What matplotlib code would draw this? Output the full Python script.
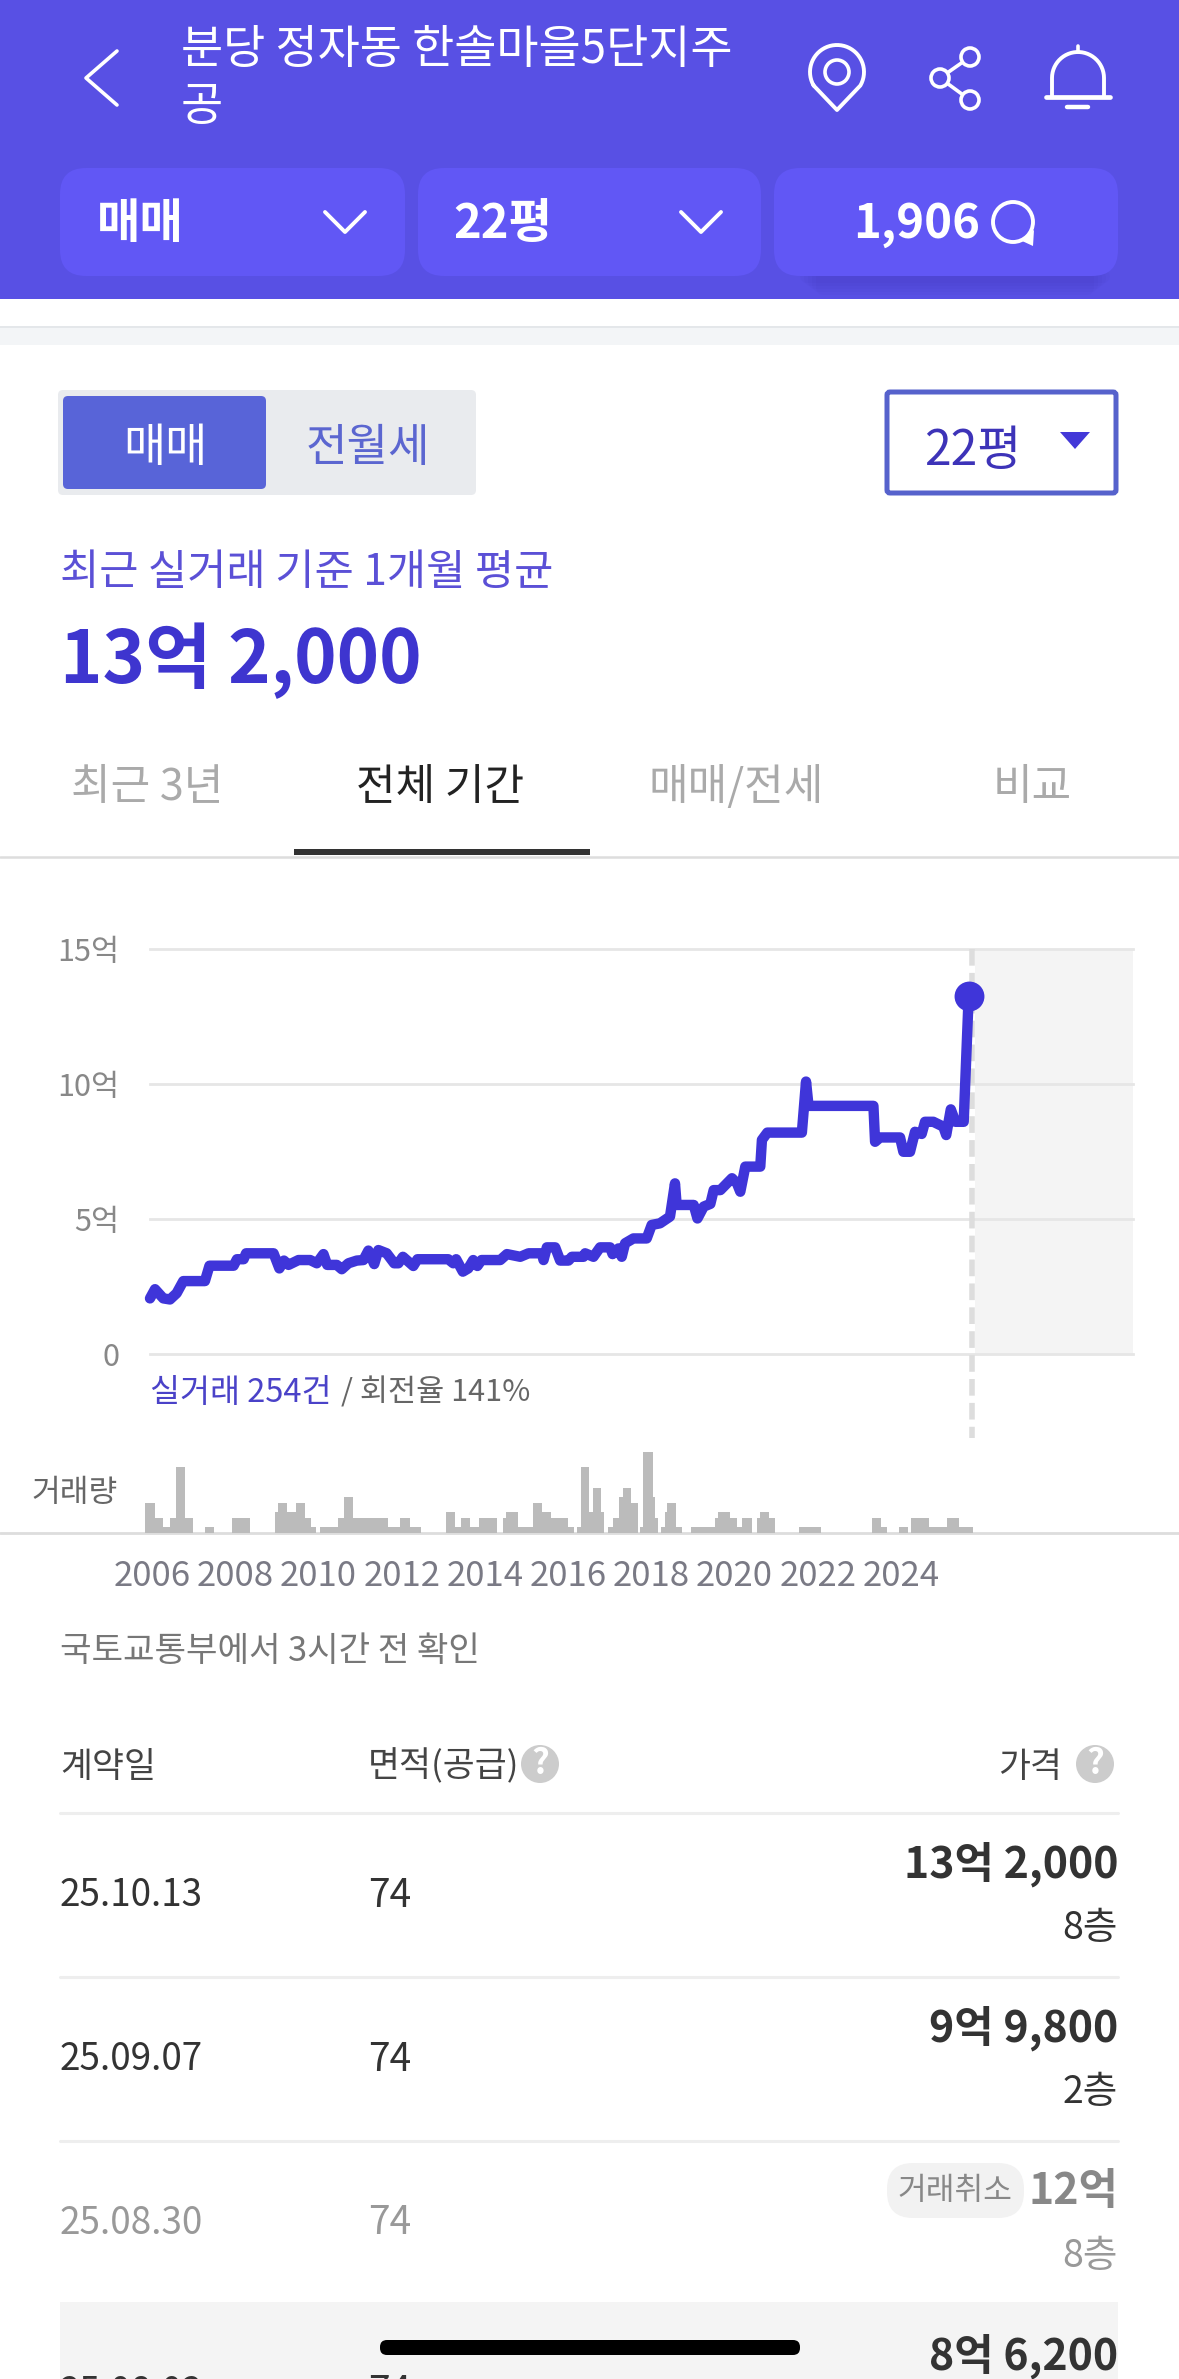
import numpy as np
import matplotlib
matplotlib.use("Agg")
import matplotlib.pyplot as plt
from matplotlib.patches import FancyBboxPatch, Rectangle, Circle, Polygon

plt.rcParams['font.family'] = ['Noto Sans CJK KR', 'DejaVu Sans']

# --- chart data ---
price_years = [
    2005.95, 2006.07, 2006.27, 2006.43, 2006.59, 2006.75, 2007.27, 2007.38, 2007.96, 2008.04,
    2008.20, 2008.26, 2008.92, 2009.06, 2009.17, 2009.28, 2009.52, 2009.80, 2009.96, 2010.12,
    2010.21, 2010.44, 2010.56, 2010.72, 2010.92, 2011.08, 2011.20, 2011.34, 2011.44, 2011.64,
    2011.82, 2011.92, 2012.03, 2012.28, 2012.38, 2013.12, 2013.24, 2013.31, 2013.47, 2013.60,
    2013.72, 2013.82, 2013.92, 2014.37, 2014.53, 2014.85, 2015.05, 2015.37, 2015.41, 2015.49,
    2015.69, 2015.81, 2016.01, 2016.09, 2016.37, 2016.41, 2016.61, 2016.77, 2017.01, 2017.07,
    2017.21, 2017.29, 2017.37, 2017.57, 2017.89, 2018.01, 2018.21, 2018.45, 2018.57, 2018.61,
    2019.02, 2019.11, 2019.26, 2019.42, 2019.50, 2019.66, 2019.94, 2020.06, 2020.14, 2020.26,
    2020.62, 2020.66, 2020.79, 2021.62, 2021.72, 2021.78, 2023.34, 2023.38, 2023.50, 2023.98,
    2024.06, 2024.22, 2024.34, 2024.50, 2024.58, 2024.78, 2025.02, 2025.09, 2025.20, 2025.31,
    2025.51, 2025.63,
]
price_values = [
    2.06, 2.40, 2.06, 2.02, 2.25, 2.70, 2.70, 3.27, 3.27, 3.51,
    3.51, 3.73, 3.73, 3.17, 3.46, 3.30, 3.48, 3.48, 3.36, 3.70,
    3.30, 3.30, 3.14, 3.36, 3.46, 3.48, 3.83, 3.33, 3.85, 3.73,
    3.36, 3.36, 3.60, 3.26, 3.51, 3.51, 3.36, 3.51, 3.05, 3.17,
    3.48, 3.26, 3.48, 3.48, 3.70, 3.60, 3.73, 3.73, 3.48, 3.95,
    3.95, 3.46, 3.46, 3.60, 3.60, 3.73, 3.60, 3.95, 3.95, 3.70,
    3.91, 3.60, 4.10, 4.28, 4.28, 4.78, 4.84, 5.09, 6.32, 5.52,
    5.52, 5.02, 5.46, 5.56, 6.07, 6.07, 6.51, 6.32, 6.01, 6.94,
    6.94, 7.93, 8.20, 8.20, 10.09, 9.19, 9.19, 7.86, 8.02, 8.02,
    7.49, 7.49, 8.23, 8.15, 8.60, 8.60, 8.42, 8.11, 9.06, 8.60,
    8.60, 13.27,
]

vol_left = [
    2005.84, 2006.06, 2006.27, 2006.42, 2006.57, 2006.78, 2007.28, 2007.93, 2008.95, 2009.02,
    2009.24, 2009.45, 2009.67, 2009.81, 2010.03, 2010.46, 2010.61, 2010.82, 2011.68, 2011.97,
    2012.19, 2013.06, 2013.28, 2013.42, 2013.64, 2013.85, 2014.43, 2014.50, 2014.79, 2015.15,
    2015.37, 2015.58, 2016.01, 2016.22, 2016.30, 2016.51, 2016.59, 2016.80, 2016.95, 2017.09,
    2017.23, 2017.31, 2017.52, 2017.74, 2017.81, 2018.03, 2018.10, 2018.24, 2018.32, 2018.39,
    2018.60, 2018.96, 2019.54, 2019.61, 2019.90, 2020.05, 2020.19, 2020.55, 2020.62, 2020.84,
    2021.56, 2023.30, 2023.52, 2023.95, 2024.24, 2024.67, 2025.10, 2025.39,
]
vol_right = [
    2006.06, 2006.27, 2006.42, 2006.57, 2006.78, 2006.99, 2007.50, 2008.36, 2009.02, 2009.24,
    2009.45, 2009.67, 2009.81, 2009.95, 2010.46, 2010.61, 2010.82, 2011.68, 2011.97, 2012.19,
    2012.47, 2013.28, 2013.42, 2013.64, 2013.85, 2014.29, 2014.50, 2014.79, 2015.15, 2015.37,
    2015.58, 2016.01, 2016.15, 2016.30, 2016.51, 2016.59, 2016.80, 2016.87, 2017.09, 2017.23,
    2017.31, 2017.52, 2017.67, 2017.81, 2018.03, 2018.10, 2018.17, 2018.32, 2018.39, 2018.60,
    2018.75, 2019.54, 2019.61, 2019.90, 2020.05, 2020.19, 2020.41, 2020.62, 2020.84, 2020.98,
    2022.07, 2023.52, 2023.66, 2024.17, 2024.67, 2025.10, 2025.39, 2025.74,
]
vol_counts = [
    10, 5, 2, 5, 22, 5, 2, 5, 7, 10,
    7, 10, 5, 2, 2, 5, 12, 5, 2, 5,
    2, 7, 2, 5, 2, 5, 5, 7, 2, 10,
    7, 5, 2, 2, 22, 7, 15, 7, 2, 5,
    12, 15, 10, 2, 27, 12, 5, 2, 7, 10,
    2, 2, 5, 7, 5, 2, 5, 5, 7, 5,
    2, 5, 2, 2, 5, 2, 5, 2,
]

y_ticks = [0, 5, 10, 15]
y_labels = ['0', '5억', '10억', '15억']
x_ticks = [2006, 2008, 2010, 2012, 2014, 2016, 2018, 2020, 2022, 2024]

table_dates = ['25.10.13', '25.09.07', '25.08.30', '25.08.02']
table_areas = ['74', '74', '74', '74']
table_prices = ['13억 2,000', '9억 9,800', '12억', '8억 6,200']
table_floors = ['8층', '2층', '8층']

W, H = 1179, 2379
HEADER = '#5850E4'
BUTTON = '#6157F5'
LINE = '#3F35D9'

fig = plt.figure(figsize=(W / 100, H / 100), dpi=100, facecolor='white')


def px_axes(x0, y0, x1, y1):
    return fig.add_axes([x0 / W, 1 - y1 / H, (x1 - x0) / W, (y1 - y0) / H])


# --- screen chrome, drawn in pixel coordinates ---
ui = fig.add_axes([0, 0, 1, 1])
ui.set_xlim(0, W)
ui.set_ylim(H, 0)
ui.axis('off')


def box(x0, y0, x1, y1, color, radius=0, edge='none', lw=0, alpha=1, z=1):
    if radius:
        p = FancyBboxPatch((x0, y0), x1 - x0, y1 - y0, boxstyle=f'round,pad=0,rounding_size={radius}',
                           facecolor=color, edgecolor=edge, linewidth=lw, alpha=alpha, zorder=z)
    else:
        p = Rectangle((x0, y0), x1 - x0, y1 - y0, facecolor=color, edgecolor=edge, linewidth=lw,
                      alpha=alpha, zorder=z)
    ui.add_patch(p)


def label(x, y, s, size, color, ha='left', weight='normal', z=5):
    # noto's box sits a little high, nudge down to match the screenshot
    ui.text(x, y + 3, s, fontsize=size, color=color, ha=ha, va='center', fontweight=weight, zorder=z)


def stroke(xs, ys, color='white', lw=2.4, z=5):
    ui.plot(xs, ys, color=color, lw=lw, solid_capstyle='round', solid_joinstyle='round', zorder=z)


def help_icon(x, y):
    ui.add_patch(Circle((x, y), 19, facecolor='#CCCCCC', edgecolor='none', zorder=4))
    label(x, y - 3, '?', 25, 'white', ha='center', weight='bold')


# header
box(0, 0, W, 299, HEADER)
for i in range(5):
    box(800 + i * 4, 270, 1110 - i * 4, 283 + i * 3, '#3F35B0', radius=8, alpha=0.06, z=1.5)
box(60, 168, 405, 276, BUTTON, radius=26, z=2)
box(418, 168, 761, 276, BUTTON, radius=26, z=2)
box(774, 168, 1118, 276, BUTTON, radius=26, z=2)

stroke([117, 86, 117], [51, 78, 105], lw=2.6)
label(181, 47, '분당 정자동 한솔마을5단지주', 33, 'white')
label(181, 104, '공', 33, 'white')

# pin icon
t = np.radians(np.linspace(150, 390, 40))
pin_x = 837 + 27 * np.cos(t)
pin_y = 72 + 27 * np.sin(t)
stroke(list(pin_x) + [837, pin_x[0]], list(pin_y) + [110, pin_y[0]], lw=2.8)
ui.add_patch(Circle((837, 72), 12, facecolor='none', edgecolor='white', linewidth=2.6, zorder=5))

# share icon
stroke([970, 940, 970], [57, 78, 100], lw=2.6)
for cx, cy in [(970, 57), (940, 78), (970, 100)]:
    ui.add_patch(Circle((cx, cy), 9, facecolor=HEADER, edgecolor='white', linewidth=2.6, zorder=6))

# bell icon
t = np.radians(np.linspace(180, 360, 30))
stroke([1052] + list(1078 + 26 * np.cos(t)) + [1104], [96] + list(78 + 26 * np.sin(t)) + [96], lw=2.8)
stroke([1046, 1110], [97, 97], lw=3.4)
stroke([1067, 1088], [107, 107], lw=3.2)
stroke([1078, 1078], [46, 52], lw=2.6)

label(97, 221, '매매', 34, 'white', weight='bold')
label(453, 221, '22평', 34, 'white', weight='bold')
stroke([325, 345, 365], [212, 232, 212], lw=2.8)
stroke([681, 701, 721], [212, 232, 212], lw=2.8)
label(853, 221, '1,906', 34, 'white', weight='bold')
ui.add_patch(Circle((1013, 222), 20, facecolor='none', edgecolor='white', linewidth=2.8, zorder=5))
ui.add_patch(Polygon([[1020, 240], [1034, 230], [1033, 246]], facecolor='white', edgecolor='none', zorder=5))

# strip under the header
stroke([0, W], [327, 327], color='#E4E7EA', lw=1.4, z=1)
box(0, 328, W, 345, '#F3F5F7')

# toggle and dropdown
box(58, 390, 476, 495, '#E9EBEE', radius=5)
box(63, 396, 266, 489, '#5864D8', radius=5, z=2)
label(165, 445, '매매', 33, 'white', ha='center')
label(368, 445, '전월세', 32.5, '#5B66D0', ha='center')
box(887, 392, 1116, 493, 'white', edge='#5662CC', lw=3.6, radius=3)
label(973, 448, '22평', 34.5, '#3D33B8', ha='center')
ui.add_patch(Polygon([[1060, 432], [1090, 432], [1075, 449]], facecolor='#4338D8', edgecolor='none', zorder=5))

label(60, 570, '최근 실거래 기준 1개월 평균', 30.7, '#5B50D6')
label(60, 658, '13억 2,000', 52, '#3E35CF', weight='bold')

# tabs
label(147, 785, '최근 3년', 31, '#AAAAAA', ha='center')
label(440, 785, '전체 기간', 31, '#222222', ha='center')
label(736, 785, '매매/전세', 31, '#AAAAAA', ha='center')
label(1032, 785, '비교', 31, '#AAAAAA', ha='center')
stroke([0, W], [857, 857], color='#DDDDDD', lw=1.8, z=1)
box(294, 849, 590, 855, '#333333')

# --- price chart ---
ax = px_axes(150, 949, 1133, 1354)
ax.patch.set_alpha(0)
ax.set_xlim(2005.95, 2029.58)
ax.set_ylim(0, 15)
ax.set_yticks(y_ticks)
ax.set_yticklabels(y_labels, fontsize=22, color='#888888')
ax.set_xticks([])
ax.tick_params(axis='y', length=0, pad=22)
for side in ax.spines:
    ax.spines[side].set_visible(False)
ax.grid(axis='y', color='#E6E6E6', linewidth=2)
ax.set_axisbelow(True)
for gl in ax.get_ygridlines():
    gl.set_clip_on(False)
ax.axvspan(2025.78, 2029.58, color='#F4F4F4', linewidth=0, zorder=0)
ax.plot([2025.71, 2025.71], [15, -3.1], color='#DDDDDD', linewidth=4, linestyle=(0, (3, 1.3)),
        clip_on=False, zorder=1)
ax.plot(price_years, price_values, color=LINE, linewidth=7.5, solid_capstyle='round',
        solid_joinstyle='round', clip_on=False, zorder=3)
ax.plot(price_years[-1], price_values[-1], marker='o', markersize=21.5, color=LINE,
        markeredgewidth=0, clip_on=False, zorder=4)

label(150, 1390, '실거래 254건', 23.5, '#4A42C8')
label(341, 1390, '/ 회전율 141%', 22, '#666666')

# --- volume bars ---
ax_vol = px_axes(150, 1440, 1133, 1533)
ax_vol.patch.set_alpha(0)
ax_vol.set_xlim(2005.95, 2029.58)
ax_vol.set_ylim(0, 31)
ax_vol.bar(vol_left, vol_counts, width=[r - l for l, r in zip(vol_left, vol_right)], align='edge',
           color='#BBBBBB', linewidth=0, clip_on=False)
ax_vol.set_yticks([])
ax_vol.set_xticks(x_ticks)
ax_vol.set_xticklabels([str(y) for y in x_ticks], fontsize=25, color='#7A7A85')
ax_vol.tick_params(axis='x', length=0, pad=19)
for side in ax_vol.spines:
    ax_vol.spines[side].set_visible(False)
stroke([0, W], [1533, 1533], color='#DDDDDD', lw=2, z=1)
label(118, 1490, '거래량', 22.5, '#666666', ha='right')

# --- deal table ---
label(60, 1649, '국토교통부에서 3시간 전 확인', 24.7, '#777777')
label(60, 1764, '계약일', 25, '#444444')
label(368, 1764, '면적(공급)', 25, '#444444')
help_icon(540, 1764)
label(1062, 1764, '가격', 25, '#444444', ha='right')
help_icon(1095, 1764)

for y in [1813, 1977, 2141]:
    stroke([60, 1118], [y, y], color='#EEEEEE', lw=2.2, z=1)
box(60, 2302, 1118, H, '#F4F4F4')

row_y = [1893, 2057, 2220, 2390]
price_y = [1861, 2025, 2188, 2353]
floor_y = [1926, 2089, 2253]
row_color = ['#333333', '#333333', '#999999', '#333333']
for i in range(4):
    label(60, row_y[i], table_dates[i], 26.5, row_color[i])
    label(368, row_y[i], table_areas[i], 28, row_color[i])
    label(1118, price_y[i], table_prices[i], 30.8, row_color[i] if i != 2 else '#888888', ha='right', weight='bold')
for i in range(3):
    label(1118, floor_y[i], table_floors[i], 27, row_color[i], ha='right')

box(887, 2163, 1024, 2218, '#F2F2F2', radius=26)
label(955, 2188, '거래취소', 22.5, '#888888', ha='center')

# home indicator
box(380, 2340, 800, 2355, 'black', radius=7, z=8)

fig.savefig('out.png', dpi=100, facecolor='white')
